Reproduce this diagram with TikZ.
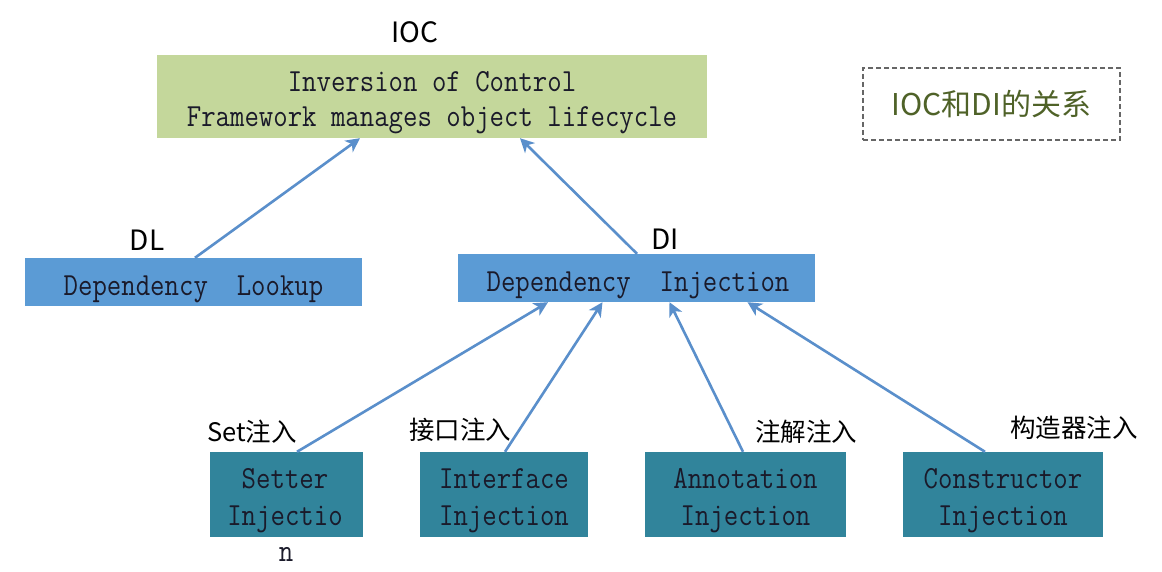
\documentclass[tikz,border=0pt]{standalone}
\usepackage{fontspec}
\usepackage{graphicx}
\newfontfamily\cjk{Noto Sans CJK SC}
\usetikzlibrary{arrows.meta,calc}
\definecolor{iocgreen}{HTML}{C4D79B}
\definecolor{diblue}{HTML}{5B9BD5}
\definecolor{injteal}{HTML}{31849B}
\definecolor{arrowblue}{HTML}{5A8FCB}
\definecolor{olivetext}{HTML}{4F6228}
\definecolor{textdark}{HTML}{1A1A2A}
\newcommand{\tallt}[1]{\scalebox{1}[1.15]{#1}}
\begin{document}
\begin{tikzpicture}[x=1pt,y=-1pt,
  box/.style={inner sep=0pt},
  tl/.style={anchor=base, inner sep=0pt, text=textdark,
    font={\fontsize{28}{34}\selectfont\ttfamily}},
  lab/.style={inner sep=0pt, font={\fontsize{25.5}{30}\selectfont\cjk}},
  biglab/.style={inner sep=0pt, font={\fontsize{28}{32}\selectfont\cjk}},
  conn/.style={draw=arrowblue, line width=2.6pt, -{Stealth[length=14pt,width=14pt,inset=4pt]}}
]
\useasboundingbox (0,0) rectangle (1162,572);
\fill[white] (0,0) rectangle (1162,572);

% boxes
\node[box, fill=iocgreen, minimum width=550pt, minimum height=83pt] (ioc) at (432,96.5) {};
\node[box, fill=diblue, minimum width=337pt, minimum height=48pt] (dl) at (193.5,282) {};
\node[box, fill=diblue, minimum width=357pt, minimum height=48pt] (di) at (636.5,278) {};
\node[box, fill=injteal, minimum width=153pt, minimum height=85pt] (setter) at (286.5,494.5) {};
\node[box, fill=injteal, minimum width=168pt, minimum height=85pt] (iface) at (504,494.5) {};
\node[box, fill=injteal, minimum width=201pt, minimum height=85pt] (annot) at (745.5,494.5) {};
\node[box, fill=injteal, minimum width=200pt, minimum height=85pt] (ctor) at (1003,494.5) {};

% box texts
\node[tl] (ioc1) at (432,92) {\tallt{Inversion of Control}};
\node[tl] (ioc2) at (432,127) {\tallt{Framework manages object lifecycle}};
\node[tl] (dlt) at (193.5,295) {\tallt{Dependency\ \ Lookup}};
\node[tl] (dit) at (638,291) {\tallt{Dependency\ \ Injection}};
\node[tl] (set1) at (285,488) {\tallt{Setter}};
\node[tl] (set2) at (285,525) {\tallt{Injectio}};
\node[tl] (set3) at (286,561) {\tallt{n}};
\node[tl] (if1) at (504,488) {\tallt{Interface}};
\node[tl] (if2) at (504,525) {\tallt{Injection}};
\node[tl] (an1) at (745.5,488) {\tallt{Annotation}};
\node[tl] (an2) at (745.5,525) {\tallt{Injection}};
\node[tl] (ct1) at (1003,488) {\tallt{Constructor}};
\node[tl] (ct2) at (1003,525) {\tallt{Injection}};

% labels
\node[biglab] (iocl) at (415,32) {IOC};
\node[biglab] (dll) at (147,240) {DL};
\node[biglab] (dil) at (665,239) {DI};
\node[lab] (setl) at (252,432) {Set注入};
\node[lab] (ifl) at (460,430) {接口注入};
\node[lab] (anl) at (806,432) {注解注入};
\node[lab] (ctl) at (1074,428) {构造器注入};

% relation box
\node[draw=gray!80!black, dashed, line width=1.3pt, dash pattern=on 5pt off 3pt,
  minimum width=257pt, minimum height=72pt, text=olivetext,
  font={\fontsize{30}{34}\selectfont\cjk}] (rel) at (991.5,104) {IOC和DI的关系};

% connectors
\draw[conn] ([xshift=1.5pt]dl.north) -- ([xshift=-72pt]ioc.south);
\draw[conn] ([xshift=0.5pt]di.north) -- ([xshift=88pt]ioc.south);
\draw[conn] ([xshift=10.5pt]setter.north) -- ([xshift=-88.5pt]di.south);
\draw[conn] ([xshift=1pt]iface.north) -- ([xshift=-34pt]di.south);
\draw[conn] ([xshift=-2.5pt]annot.north) -- ([xshift=33pt]di.south);
\draw[conn] ([xshift=-18pt]ctor.north) -- ([xshift=111pt]di.south);
\end{tikzpicture}
\end{document}
